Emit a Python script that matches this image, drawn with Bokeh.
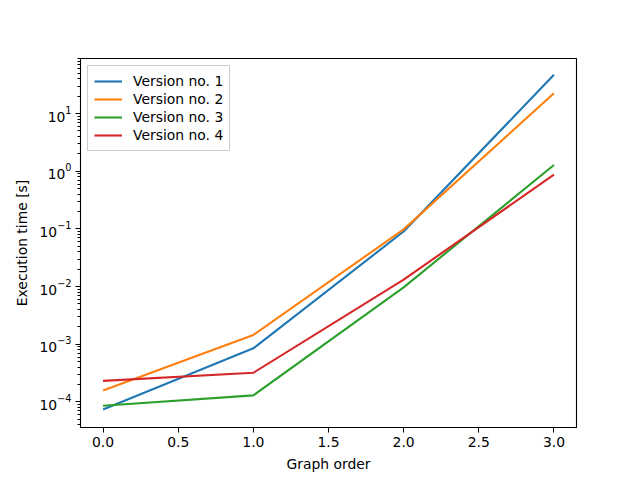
from bokeh.plotting import figure
from bokeh.models import FixedTicker, PrintfTickFormatter, Range1d, Legend, LegendItem
from bokeh.embed import file_html
from bokeh.resources import INLINE

graph_order = [0, 1, 2, 3]
v1 = [7.4e-5, 8.5e-4, 0.090, 47.0]
v2 = [1.58e-4, 1.45e-3, 0.098, 22.5]
v3 = [8.6e-5, 1.3e-4, 0.0097, 1.28]
v4 = [2.32e-4, 3.2e-4, 0.0132, 0.87]
names = ["Version no. 1", "Version no. 2", "Version no. 3", "Version no. 4"]
colors = ["#1f77b4", "#ff7f0e", "#2ca02c", "#d62728"]
x_ticks = [0.0, 0.5, 1.0, 1.5, 2.0, 2.5, 3.0]

FONT = "DejaVu Sans"
FS = "13.9px"

p = figure(width=640, height=480, y_axis_type="log", output_backend="svg",
           toolbar_location=None,
           x_range=Range1d(-0.15, 3.15), y_range=Range1d(3.6e-5, 90),
           min_border_left=80, min_border_right=64, min_border_top=58, min_border_bottom=53)

items = []
for vals, name, col in zip([v1, v2, v3, v4], names, colors):
    r = p.line(graph_order, vals, line_color=col, line_width=2.1)
    items.append(LegendItem(label=name, renderers=[r]))

leg = Legend(items=items, location="top_left")
leg.label_text_font = FONT
leg.label_text_font_size = FS
leg.label_text_color = "black"
leg.border_line_color = "#cccccc"
leg.border_line_alpha = 1.0
leg.background_fill_alpha = 0.8
leg.glyph_width = 28
leg.glyph_height = 14
leg.label_standoff = 11
leg.spacing = 0
leg.padding = 6
leg.margin = 7
leg.label_height = 18
p.add_layout(leg)

p.grid.visible = False
p.outline_line_color = "black"
p.outline_line_width = 1.1
p.background_fill_color = "white"
p.border_fill_color = "white"

p.xaxis.ticker = FixedTicker(ticks=x_ticks)
p.xaxis.formatter = PrintfTickFormatter(format="%.1f")
p.xaxis.axis_label = "Graph order"
p.yaxis.axis_label = "Execution time [s]"

for ax in [p.xaxis[0], p.yaxis[0]]:
    ax.axis_line_color = "black"
    ax.major_tick_in = 0
    ax.major_tick_out = 5
    ax.minor_tick_in = 0
    ax.minor_tick_out = 3
    ax.major_label_text_font = FONT
    ax.major_label_text_font_size = FS
    ax.major_label_text_color = "black"
    ax.axis_label_text_font = FONT
    ax.axis_label_text_font_size = FS
    ax.axis_label_text_font_style = "normal"
    ax.axis_label_text_color = "black"
    ax.major_label_standoff = 4
    ax.axis_label_standoff = 6

p.xaxis.minor_tick_out = 0

open("out.html", "w").write(file_html(p, INLINE))
